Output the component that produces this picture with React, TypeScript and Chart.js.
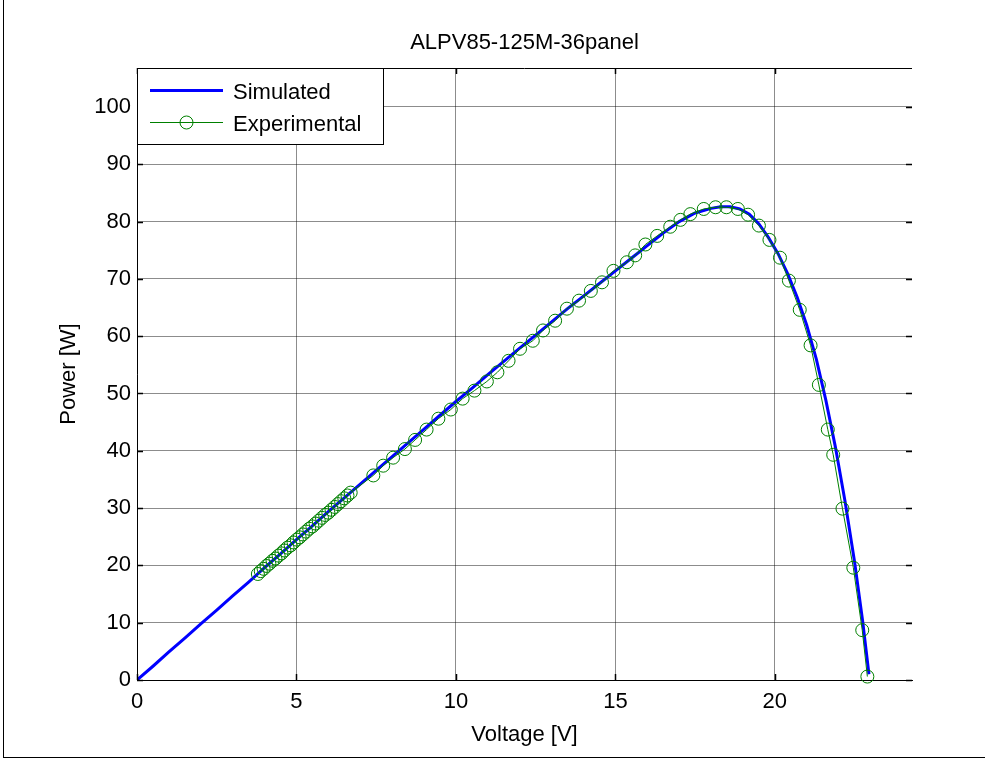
import { useEffect, useRef } from 'react';
import { Chart, registerables } from 'chart.js';

Chart.register(...registerables);

const chartTitle = 'ALPV85-125M-36panel';
const xAxisLabel = 'Voltage [V]';
const yAxisLabel = 'Power [W]';
const seriesNames = ['Simulated', 'Experimental'];

const xMin = 0;
const xMax = 24.3;
const xStep = 5;
const yMin = 0;
const yMax = 106.8;
const yStep = 10;
const xTickValues = [0, 5, 10, 15, 20];
const yTickValues = [0, 10, 20, 30, 40, 50, 60, 70, 80, 90, 100];

const simVoltage = [
  0, 0.5, 1, 1.5, 2, 2.5, 3, 3.5, 4, 4.5, 5, 5.5, 6, 6.5, 7, 7.5, 8, 8.5, 9, 9.5,
  10, 10.5, 11, 11.5, 12, 12.5, 13, 13.5, 14, 14.5, 15, 15.5, 16, 16.5, 17, 17.5,
  18, 18.3, 18.6, 18.9, 19.2, 19.5, 19.8, 20.1, 20.4, 20.7, 21.0, 21.3, 21.6, 21.9,
  22.2, 22.5, 22.75, 22.95,
];
const simPower = [
  0, 2.4, 4.9, 7.3, 9.8, 12.2, 14.7, 17.1, 19.6, 22.0, 24.5, 26.9, 29.4, 31.8, 34.2, 36.6, 39.0, 41.4, 43.8, 46.2,
  48.6, 50.9, 53.3, 55.6, 57.9, 60.2, 62.5, 64.8, 67.0, 69.2, 71.4, 73.6, 75.8, 78.0, 80.0, 81.5,
  82.3, 82.6, 82.6, 82.2, 81.3, 79.6, 77.2, 74.4, 70.9, 66.8, 61.9, 56.0, 48.8, 40.6,
  31.2, 20.6, 10.4, 1.0,
];

const expVoltage = [
  3.79, 3.88, 3.97, 4.06, 4.15, 4.25, 4.34, 4.44, 4.53, 4.62, 4.72, 4.82, 4.91, 5.01, 5.10, 5.20,
  5.30, 5.40, 5.50, 5.60, 5.70, 5.80, 5.90, 6.00, 6.10, 6.20, 6.30, 6.40, 6.50, 6.60, 6.70,
  7.41, 7.72, 8.03, 8.40, 8.72, 9.08, 9.45, 9.84, 10.21, 10.58, 10.97, 11.30, 11.65, 12.01,
  12.41, 12.73, 13.11, 13.48, 13.86, 14.23, 14.58, 14.94, 15.36, 15.62, 15.94, 16.31, 16.72,
  17.04, 17.35, 17.77, 18.14, 18.48, 18.84, 19.16, 19.50, 19.83, 20.16, 20.44, 20.78, 21.12,
  21.38, 21.66, 21.83, 22.12, 22.46, 22.74, 22.90,
];
const expPower = [
  18.5, 19.0, 19.4, 19.9, 20.3, 20.8, 21.2, 21.7, 22.1, 22.6, 23.1, 23.5, 24.0, 24.5, 24.9, 25.4,
  25.9, 26.4, 26.8, 27.3, 27.8, 28.3, 28.8, 29.2, 29.7, 30.2, 30.7, 31.2, 31.7, 32.2, 32.7,
  35.7, 37.4, 38.8, 40.3, 41.9, 43.7, 45.6, 47.2, 49.1, 50.5, 52.1, 53.7, 55.7, 57.8,
  59.2, 61.0, 62.7, 64.8, 66.2, 67.9, 69.4, 71.4, 72.9, 74.1, 76.0, 77.5, 79.1,
  80.3, 81.3, 82.2, 82.5, 82.5, 82.2, 81.2, 79.3, 76.8, 73.7, 69.7, 64.6, 58.4,
  51.5, 43.7, 39.3, 29.9, 19.6, 8.7, 0.6,
];

const FONT = 'Arial, "Liberation Sans", Helvetica, sans-serif';
const BLUE = 'rgb(0,0,255)';
const GREEN = 'rgb(0,128,0)';

const framePlugin = {
  id: 'matlabFrame',
  beforeDraw(chart: any) {
    const ctx = chart.ctx;
    ctx.save();
    ctx.fillStyle = '#ffffff';
    ctx.fillRect(0, 0, chart.width, chart.height);
    ctx.restore();
  },
  afterDraw(chart: any) {
    const ctx = chart.ctx;
    const { left, right, top, bottom } = chart.chartArea;
    const xs = chart.scales.x;
    const ys = chart.scales.y;
    ctx.save();
    ctx.strokeStyle = '#000000';
    ctx.lineWidth = 1;
    // top axis line
    ctx.beginPath();
    ctx.moveTo(left, Math.round(top) + 0.5);
    ctx.lineTo(right, Math.round(top) + 0.5);
    ctx.stroke();
    // inward ticks
    const tl = 6;
    ctx.lineWidth = 1.5;
    xTickValues.forEach((v) => {
      const px = Math.round(xs.getPixelForValue(v)) + 0.5;
      ctx.beginPath();
      ctx.moveTo(px, bottom);
      ctx.lineTo(px, bottom - tl);
      ctx.moveTo(px, top);
      ctx.lineTo(px, top + tl);
      ctx.stroke();
    });
    yTickValues.forEach((v) => {
      const py = Math.round(ys.getPixelForValue(v)) + 0.5;
      ctx.beginPath();
      ctx.moveTo(left, py);
      ctx.lineTo(left + tl, py);
      ctx.moveTo(right - tl, py);
      ctx.lineTo(right, py);
      ctx.stroke();
    });

    // title
    ctx.fillStyle = '#000000';
    ctx.font = `22px ${FONT}`;
    ctx.textAlign = 'center';
    ctx.textBaseline = 'alphabetic';
    ctx.fillText(chartTitle, (left + right) / 2, 49);
    // x label
    ctx.fillText(xAxisLabel, (left + right) / 2, 741);
    // y label
    ctx.save();
    ctx.translate(75, (top + bottom) / 2);
    ctx.rotate(-Math.PI / 2);
    ctx.fillText(yAxisLabel, 0, 0);
    ctx.restore();

    // legend
    const lx = Math.round(left) + 0.5;
    const ly = Math.round(top) + 0.5;
    const lw = 246;
    const lh = 76;
    ctx.fillStyle = '#ffffff';
    ctx.fillRect(lx, ly, lw, lh);
    ctx.strokeStyle = '#000000';
    ctx.lineWidth = 1;
    ctx.strokeRect(lx, ly, lw, lh);
    // simulated sample
    ctx.strokeStyle = BLUE;
    ctx.lineWidth = 3;
    ctx.beginPath();
    ctx.moveTo(150, 90.5);
    ctx.lineTo(223, 90.5);
    ctx.stroke();
    // experimental sample
    ctx.strokeStyle = GREEN;
    ctx.lineWidth = 1;
    ctx.beginPath();
    ctx.moveTo(150, 122.5);
    ctx.lineTo(223, 122.5);
    ctx.stroke();
    ctx.beginPath();
    ctx.arc(186.5, 122.5, 6.5, 0, Math.PI * 2);
    ctx.stroke();
    ctx.fillStyle = '#000000';
    ctx.textAlign = 'left';
    ctx.fillText(seriesNames[0], 233, 99);
    ctx.fillText(seriesNames[1], 233, 131);

    ctx.restore();
  },
};

export default function App() {
  const canvasRef = useRef<HTMLCanvasElement | null>(null);

  useEffect(() => {
    document.body.style.margin = '0';
    const canvas = canvasRef.current;
    if (!canvas) return;
    const simData = simVoltage.map((v, i) => ({ x: v, y: simPower[i] }));
    const expData = expVoltage.map((v, i) => ({ x: v, y: expPower[i] }));

    const chart = new Chart(canvas, {
      type: 'scatter',
      data: {
        datasets: [
          {
            label: seriesNames[0],
            data: simData,
            showLine: true,
            borderColor: BLUE,
            backgroundColor: BLUE,
            borderWidth: 3,
            pointRadius: 0,
            tension: 0,
            order: 2,
          },
          {
            label: seriesNames[1],
            data: expData,
            showLine: true,
            borderColor: GREEN,
            backgroundColor: 'rgba(0,0,0,0)',
            borderWidth: 1,
            pointRadius: 6.5,
            pointBorderWidth: 1,
            pointBorderColor: GREEN,
            pointBackgroundColor: 'rgba(0,0,0,0)',
            tension: 0,
            order: 1,
            clip: false,
          } as any,
        ],
      },
      options: {
        responsive: false,
        animation: false,
        events: [],
        layout: { padding: { top: 68, right: 73, left: 0, bottom: 0 } },
        plugins: {
          legend: { display: false },
          title: { display: false },
          tooltip: { enabled: false },
        },
        scales: {
          x: {
            type: 'linear',
            min: xMin,
            max: xMax,
            afterFit: (s: any) => {
              s.height = 80;
            },
            ticks: {
              stepSize: xStep,
              includeBounds: false,
              color: '#000000',
              padding: 9,
              maxRotation: 0,
              font: { family: FONT, size: 22 },
            },
            grid: {
              color: 'rgba(0,0,0,0.45)',
              lineWidth: 1,
              drawTicks: false,
            },
            border: { display: true, color: '#000000', width: 1 },
          },
          y: {
            type: 'linear',
            min: yMin,
            max: yMax,
            afterFit: (s: any) => {
              s.width = 137;
            },
            ticks: {
              stepSize: yStep,
              includeBounds: false,
              color: '#000000',
              padding: 6,
              font: { family: FONT, size: 22 },
            },
            grid: {
              color: 'rgba(0,0,0,0.45)',
              lineWidth: 1,
              drawTicks: false,
            },
            border: { display: true, color: '#000000', width: 1 },
          },
        },
      },
      plugins: [framePlugin],
    });

    return () => {
      chart.destroy();
    };
  }, []);

  return (
    <div style={{ width: 985, height: 760, position: 'relative' }}>
      <canvas ref={canvasRef} width={985} height={760} style={{ display: 'block' }} />
      <div
        style={{
          position: 'absolute',
          left: 3,
          top: 0,
          width: 0,
          height: 757,
          borderLeft: '1px solid #000',
        }}
      />
      <div
        style={{
          position: 'absolute',
          left: 3,
          top: 757,
          width: 982,
          height: 0,
          borderTop: '1px solid #000',
        }}
      />
    </div>
  );
}
